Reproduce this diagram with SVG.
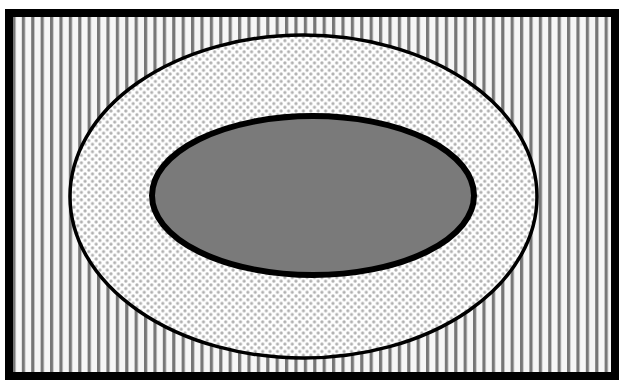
<svg xmlns="http://www.w3.org/2000/svg" width="619" height="380" viewBox="0 0 619 380">
<defs>
<pattern id="stripes" x="3" y="0" width="9.4" height="10" patternUnits="userSpaceOnUse">
<rect width="9.4" height="10" fill="#f6f6f6"/>
<rect x="0" y="0" width="3.2" height="10" fill="#777777"/>
</pattern>
<pattern id="dots" x="0" y="0" width="7.4" height="7.4" patternUnits="userSpaceOnUse">
<rect width="7.4" height="7.4" fill="#ffffff"/>
<circle cx="0" cy="0" r="1.6" fill="#b0b0b0"/>
<circle cx="7.4" cy="0" r="1.6" fill="#b0b0b0"/>
<circle cx="0" cy="7.4" r="1.6" fill="#b0b0b0"/>
<circle cx="7.4" cy="7.4" r="1.6" fill="#b0b0b0"/>
<circle cx="3.7" cy="3.7" r="1.6" fill="#b0b0b0"/>
</pattern>
<style>
.frame{fill:url(#stripes);stroke:#000;stroke-width:8}
.outer{fill:url(#dots);stroke:#000;stroke-width:3.5}
.inner{fill:#7a7a7a;stroke:#000;stroke-width:6}
</style>
</defs>
<rect width="619" height="380" fill="#ffffff"/>
<g id="frame"><rect class="frame" x="9" y="13" width="606" height="363"/></g>
<g id="outer-ellipse"><ellipse class="outer" cx="303.5" cy="196.5" rx="233.5" ry="161.5"/></g>
<g id="inner-ellipse"><ellipse class="inner" cx="313" cy="195.5" rx="161" ry="79.5"/></g>
<g id="connectors"></g>
</svg>
